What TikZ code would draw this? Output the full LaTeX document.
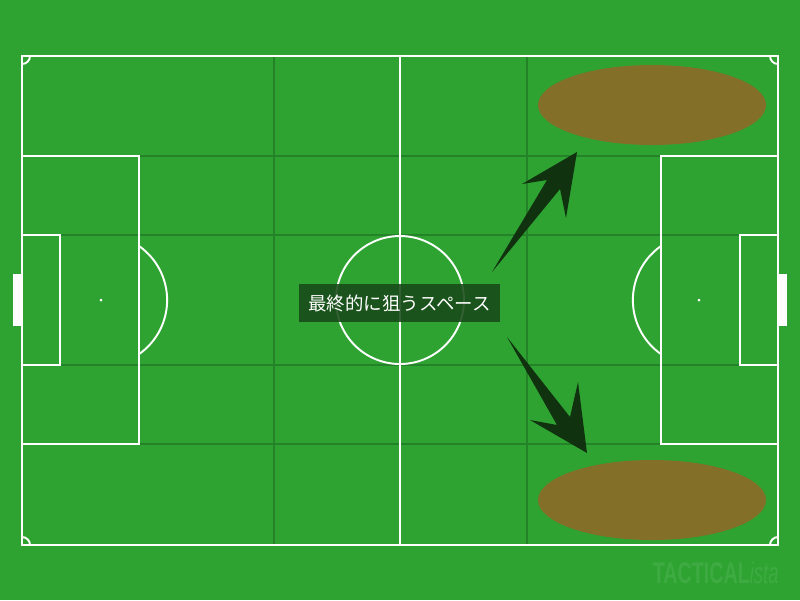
\documentclass[tikz,border=0pt]{standalone}
\usepackage{fontspec}
\newfontfamily\jpfont{Noto Sans CJK JP}
\newfontfamily\markfont{Liberation Sans}
\usetikzlibrary{positioning}
\definecolor{turf}{RGB}{46,163,50}
\definecolor{gridgreen}{RGB}{36,130,40}
\definecolor{zonebrown}{RGB}{131,111,40}
\definecolor{arrowdark}{RGB}{16,44,14}
\definecolor{labelbg}{RGB}{24,72,24}

\begin{document}
\begin{tikzpicture}[x=0.02cm,y=-0.02cm]
        \tikzstyle{pitchline}=[white, line width=1.1pt]
        \tikzstyle{gridline}=[gridgreen, line width=0.8pt]
        \tikzstyle{zone}=[fill=zonebrown, draw=none]
        \tikzstyle{bigarrow}=[fill=arrowdark, draw=none, fill opacity=0.95]
        % background
        \fill [turf] (0,0) rectangle (800,600);
        \useasboundingbox (0,0) rectangle (800,600);
        % zones grid
        \draw [gridline] (274,56) -- (274,545);
        \draw [gridline] (527,56) -- (527,545);
        \draw [gridline] (22,156) -- (778,156);
        \draw [gridline] (22,235) -- (778,235);
        \draw [gridline] (22,365) -- (778,365);
        \draw [gridline] (22,444) -- (778,444);
        % goals
        \fill [white] (13,274) rectangle (22,326);
        \fill [white] (778,274) rectangle (787,326);
        % pitch
        \draw [pitchline] (22,56) rectangle (778,545);
        \draw [pitchline] (400,56) -- (400,545);
        \draw [pitchline] (400,300) circle (64);
        \fill [white] (400,300) circle (1.5);
        \draw [pitchline] (22,156) rectangle (139,444);
        \draw [pitchline] (22,235) rectangle (60,365);
        \draw [pitchline] (661,156) rectangle (778,444);
        \draw [pitchline] (740,235) rectangle (778,365);
        \fill [white] (101,300) circle (1.5);
        \fill [white] (699,300) circle (1.5);
        \draw [pitchline] (139,246) arc (-55:55:66);
        \draw [pitchline] (661,246) arc (235:125:66);
        % corners
        \draw [pitchline] (30,56) arc (0:90:8);
        \draw [pitchline] (770,56) arc (180:90:8);
        \draw [pitchline] (22,537) arc (-90:0:8);
        \draw [pitchline] (778,537) arc (270:180:8);
        % target spaces
        \fill [zone] (652,105) ellipse (114 and 40);
        \fill [zone] (652,500) ellipse (114 and 40);
        % arrows
        \fill [bigarrow] (492,272) -- (547,180) -- (522,184) -- (577,152)
            -- (566,218) -- (560,189) -- cycle;
        \fill [bigarrow] (507,337) -- (570,417) -- (578,382) -- (587,453)
            -- (530,420) -- (557,425) -- cycle;
        % label
        \node [fill=labelbg, fill opacity=0.88, text opacity=1, text=white,
            minimum width=201*0.02cm, minimum height=38*0.02cm, inner sep=0pt,
            font=\jpfont\fontsize{10.5pt}{12pt}\selectfont] (label) at (399.5,303)
            {最終的に狙うスペース};
        % watermark
        \node [text=white, text opacity=0.08, inner sep=0pt, anchor=base east,
            font=\markfont\fontsize{17pt}{18pt}\selectfont] (mark) at (779,583)
            {\scalebox{0.66}[1]{\bfseries TACTICAL}\scalebox{0.62}[1]{\itshape ista}};
    \end{tikzpicture}
\end{document}
